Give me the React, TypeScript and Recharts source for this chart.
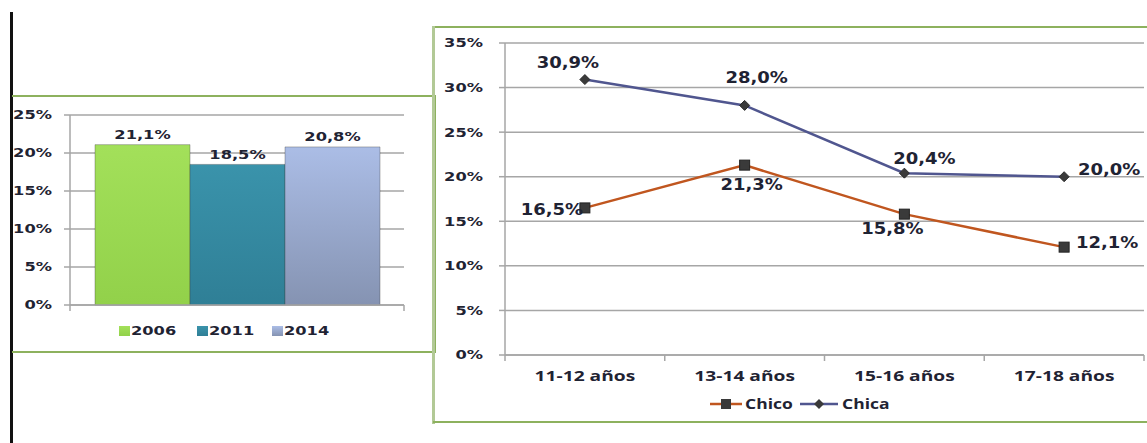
import React from 'react';
import { BarChart, Bar, LineChart, Line, XAxis, YAxis, CartesianGrid, LabelList } from 'recharts';

// left chart: one group, three years
const years = ['2006', '2011', '2014'];
const yearValues = [21.1, 18.5, 20.8];
const barTicks = [0, 5, 10, 15, 20, 25];

// right chart: by age group
const ageGroups = ['11-12 años', '13-14 años', '15-16 años', '17-18 años'];
const chico = [16.5, 21.3, 15.8, 12.1];
const chica = [30.9, 28.0, 20.4, 20.0];
const lineTicks = [0, 5, 10, 15, 20, 25, 30, 35];

const INK = '#1f2333';
const NUM_FONT = '"DejaVu Sans", sans-serif';
const WORD_FONT = '"Open Sans", sans-serif';
const GRID = '#a6a6a6';
const FRAME = '#8db15e';

const barColors: Record<string, [string, string]> = {
  '2006': ['#a3e05a', '#92d14a'],
  '2011': ['#3a93ab', '#2f7f96'],
  '2014': ['#abbde6', '#8593b2'],
};
const orange = '#c0561f';
const slate = '#50568f';

// label offsets (dx, dy) for each point
const chicoLabelOffsets = [[-33, 2], [7, 20], [-12, 15], [43, -4]];
const chicaLabelOffsets = [[-17, -17], [12, -28], [20, -14], [45, -7]];

const barData = [
  years.reduce((row: any, y, i) => ({ ...row, [y]: yearValues[i] }), { name: 'total' }),
];
const lineData = ageGroups.map((g, i) => ({ group: g, Chico: chico[i], Chica: chica[i] }));

const fmt = (v: number) => v.toFixed(1).replace('.', ',') + '%';

function WideText({ x, y, size, scale = 1.3, anchor = 'middle', family = NUM_FONT, children }: any) {
  return (
    <text
      transform={`translate(${x},${y}) scale(${scale},1)`}
      textAnchor={anchor}
      fontSize={size}
      fontWeight="bold"
      fontFamily={family}
      fill={INK}
      dy="0.35em"
    >
      {children}
    </text>
  );
}

const PctTick = (props: any) => {
  const { x, y, payload } = props;
  return <WideText x={x} y={y} size={12.5} anchor="end">{payload.value}%</WideText>;
};

// Excel-style tick marks between categories
const makeCatTick = (count: number, showLabel: boolean) => (props: any) => {
  const { x, y, payload, index } = props;
  const off = payload.offset || 0;
  return (
    <g>
      <line x1={x - off} x2={x - off} y1={y - 6} y2={y} stroke={GRID} strokeWidth={1.5} />
      {index === count - 1 && (
        <line x1={x + off} x2={x + off} y1={y - 6} y2={y} stroke={GRID} strokeWidth={1.5} />
      )}
      {showLabel && (
        <WideText x={x} y={y + 15} size={14} scale={1.37} family={WORD_FONT}>
          {payload.value}
        </WideText>
      )}
    </g>
  );
};

const BarLabel = (props: any) => {
  const { x, y, width, value } = props;
  return <WideText x={x + width / 2} y={y - 10} size={12.5}>{fmt(value)}</WideText>;
};

const makeLineLabel = (offsets: number[][]) => (props: any) => {
  const { x, y, value, index } = props;
  const [dx, dy] = offsets[index];
  return <WideText x={x + dx} y={y + dy} size={15} scale={1.2}>{fmt(value)}</WideText>;
};

const SquareDot = (props: any) => {
  const { cx, cy } = props;
  return <rect x={cx - 5} y={cy - 5} width={10} height={10} fill="#3a3a3a" stroke="#222" strokeWidth={1} />;
};

const DiamondDot = (props: any) => {
  const { cx, cy } = props;
  return (
    <polygon
      points={`${cx},${cy - 5} ${cx + 5},${cy} ${cx},${cy + 5} ${cx - 5},${cy}`}
      fill="#3a3a3a"
      stroke="#2a2a2a"
    />
  );
};

const box = (left: number, top: number, width: number, height: number, color = FRAME): React.CSSProperties => ({
  position: 'absolute',
  left,
  top,
  width,
  height,
  background: color,
});

export default function App() {
  return (
    <div style={{ position: 'absolute', left: 0, top: 0, width: 1147, height: 443, background: '#fff', overflow: 'hidden' }}>
      {/* frames */}
      <div style={box(10, 12, 3, 431, '#111')} />
      <div style={box(12, 95, 424, 2)} />
      <div style={box(434, 95, 2, 258)} />
      <div style={box(12, 351, 424, 2)} />
      <div style={box(433, 26, 714, 2)} />
      <div style={box(432, 26, 3, 398, '#b2c996')} />
      <div style={box(433, 421, 714, 2)} />

      {/* bar chart */}
      <div style={{ position: 'absolute', left: 0, top: 96 }}>
        <BarChart
          width={436}
          height={256}
          data={barData}
          margin={{ top: 19, right: 32, left: 0, bottom: 27 }}
          barCategoryGap={25}
          barGap={0}
        >
          <defs>
            {years.map((y) => (
              <linearGradient key={y} id={`g${y}`} x1="0" y1="0" x2="0" y2="1">
                <stop offset="0%" stopColor={barColors[y][0]} />
                <stop offset="100%" stopColor={barColors[y][1]} />
              </linearGradient>
            ))}
          </defs>
          <CartesianGrid vertical={false} stroke={GRID} strokeWidth={1.5} />
          <XAxis
            dataKey="name"
            height={20}
            axisLine={{ stroke: GRID, strokeWidth: 1.5 }}
            tickLine={false}
            tickSize={6}
            tickMargin={0}
            tick={makeCatTick(1, false)}
          />
          <YAxis
            width={70}
            domain={[0, 25]}
            ticks={barTicks}
            interval={0}
            axisLine={{ stroke: GRID, strokeWidth: 1.5 }}
            tickLine={{ stroke: GRID, strokeWidth: 1.5 }}
            tickSize={6}
            tickMargin={12}
            tick={<PctTick />}
          />
          {years.map((y) => (
            <Bar key={y} dataKey={y} fill={`url(#g${y})`} stroke="rgba(60,60,60,0.35)" isAnimationActive={false}>
              <LabelList dataKey={y} content={<BarLabel />} />
            </Bar>
          ))}
        </BarChart>
      </div>

      {/* bar legend */}
      <svg style={{ position: 'absolute', left: 115, top: 320 }} width={240} height={22}>
        <defs>
          {years.map((y) => (
            <linearGradient key={y} id={`lg${y}`} x1="0" y1="0" x2="0" y2="1">
              <stop offset="0%" stopColor={barColors[y][0]} />
              <stop offset="100%" stopColor={barColors[y][1]} />
            </linearGradient>
          ))}
        </defs>
        {years.map((y, i) => {
          const lx = [4, 82, 157][i];
          return (
            <g key={y}>
              <rect x={lx} y={6} width={11} height={10} fill={`url(#lg${y})`} />
              <WideText x={lx + 12} y={11} size={12.5} anchor="start">{y}</WideText>
            </g>
          );
        })}
      </svg>

      {/* line chart */}
      <div style={{ position: 'absolute', left: 434, top: 27 }}>
        <LineChart
          width={713}
          height={396}
          data={lineData}
          margin={{ top: 16, right: 3, left: 0, bottom: 28 }}
        >
          <CartesianGrid vertical={false} stroke={GRID} strokeWidth={1.5} />
          <XAxis
            dataKey="group"
            scale="band"
            height={40}
            interval={0}
            axisLine={{ stroke: GRID, strokeWidth: 1.5 }}
            tickLine={false}
            tickSize={6}
            tickMargin={0}
            tick={makeCatTick(ageGroups.length, true)}
          />
          <YAxis
            width={71}
            domain={[0, 35]}
            ticks={lineTicks}
            interval={0}
            axisLine={{ stroke: GRID, strokeWidth: 1.5 }}
            tickLine={{ stroke: GRID, strokeWidth: 1.5 }}
            tickSize={6}
            tickMargin={16}
            tick={<PctTick />}
          />
          <Line
            dataKey="Chico"
            stroke={orange}
            strokeWidth={2.5}
            dot={<SquareDot />}
            isAnimationActive={false}
          >
            <LabelList dataKey="Chico" content={makeLineLabel(chicoLabelOffsets)} />
          </Line>
          <Line
            dataKey="Chica"
            stroke={slate}
            strokeWidth={2.5}
            dot={<DiamondDot />}
            isAnimationActive={false}
          >
            <LabelList dataKey="Chica" content={makeLineLabel(chicaLabelOffsets)} />
          </Line>
        </LineChart>
      </div>

      {/* line legend */}
      <svg style={{ position: 'absolute', left: 704, top: 393 }} width={200} height={22}>
        <line x1={6} x2={38} y1={11} y2={11} stroke={orange} strokeWidth={2.5} />
        <rect x={17} y={6} width={10} height={10} fill="#3a3a3a" />
        <WideText x={41} y={11} size={14} scale={1.25} anchor="start" family={WORD_FONT}>Chico</WideText>
        <line x1={96} x2={134} y1={11} y2={11} stroke={slate} strokeWidth={2.5} />
        <polygon points="115,6 120,11 115,16 110,11" fill="#3a3a3a" />
        <WideText x={138} y={11} size={14} scale={1.25} anchor="start" family={WORD_FONT}>Chica</WideText>
      </svg>
    </div>
  );
}
